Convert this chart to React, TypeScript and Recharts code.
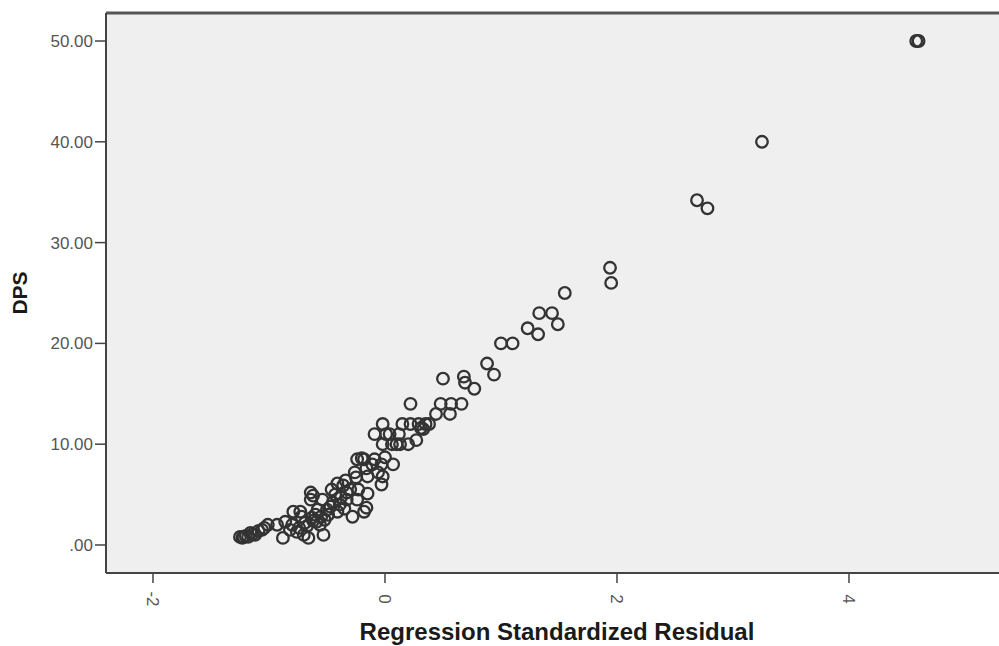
import React from 'react';
import { ScatterChart, Scatter, XAxis, YAxis, CartesianGrid, ReferenceLine } from 'recharts';

// Regression standardized residual (x) against DPS (y)
const tailResidual = [4.58, 4.6, 3.25, 2.69, 2.78, 1.94, 1.95, 1.55, 1.33, 1.44, 1.49, 1.23, 1.32, 1.0, 1.1, 0.88, 0.94, 0.5, 0.68, 0.69, 0.77, 0.22, 0.48, 0.57, 0.66, 0.44, 0.56];
const tailDps = [50, 50, 40, 34.2, 33.4, 27.5, 26, 25, 23, 23, 21.9, 21.5, 20.9, 20, 20, 18, 16.9, 16.5, 16.7, 16.1, 15.5, 14, 14, 14, 14, 13, 13];

const midResidual = [-0.02, 0.15, 0.22, 0.29, 0.35, -0.09, 0.01, 0.12, 0.31, -0.02, 0.06, 0.13, 0.2, -0.24, -0.18, -0.09, 0.0, -0.11, -0.03, 0.07, -0.26, -0.16, -0.02, -0.34, -0.25, -0.15, -0.03, -0.41, -0.36, -0.23, -0.15, -0.46, -0.33];
const midDps = [12, 12, 12, 12, 12, 11, 11, 11, 11.6, 10, 10, 10, 10, 8.5, 8.5, 8.5, 8.7, 8, 8, 8, 7.2, 7.6, 6.8, 6.4, 6.7, 6.8, 6, 6.1, 5.9, 5.5, 5.1, 5.5, 5.2];

const lowResidual = [-0.64, -0.64, -0.54, -0.43, -0.33, -0.24, -0.16, -0.18, -0.28, -0.47, -0.41, -0.58, -0.73, -0.79, -0.52, -0.63, -0.69, -0.56, -0.39, -0.49, -0.59, -0.53, -0.66, -0.76, -0.88, -0.86, -1.01, -1.04, -1.09, -1.14, -1.2, -1.25, -1.22, -0.74, -0.82, -0.93];
const lowDps = [5.2, 4.5, 4.5, 5.0, 4.5, 4.5, 3.7, 3.3, 2.8, 3.8, 3.3, 3.5, 3.3, 3.3, 2.5, 2.7, 2.2, 2.0, 4.0, 3.0, 2.3, 1.0, 0.7, 1.3, 0.7, 2.3, 2.0, 1.7, 1.4, 1.1, 0.9, 0.8, 0.8, 1.7, 1.5, 2.0];

// overlapping cases in the crowded part of the cloud
const denseResidual = [0.1, 0.27, 0.38, 0.33, -0.2, -1.23, -1.18, -1.12, -1.06, -1.16, -0.62, -0.6, -0.55, -0.5, -0.45, -0.38, -0.35, -0.3, -0.62, -0.67, -0.72, -0.8, -0.7, 0.04, -0.06];
const denseDps = [10, 10.4, 12, 11.5, 8.6, 0.7, 0.8, 1.0, 1.5, 1.2, 4.9, 3.0, 2.8, 3.5, 4.2, 4.7, 3.6, 5.5, 2.4, 1.9, 2.8, 2.0, 1.0, 11, 7.2];

const xTicks = [-2, 0, 2, 4];
const yTicks = [0, 10, 20, 30, 40, 50];

const X_DOMAIN: [number, number] = [-2.405, 5.302];
const Y_DOMAIN: [number, number] = [-2.78, 52.78];

const toPoints = (xs: number[], ys: number[]) => xs.map((x, i) => ({ x, y: ys[i] }));
const points = [
  ...toPoints(tailResidual, tailDps),
  ...toPoints(midResidual, midDps),
  ...toPoints(lowResidual, lowDps),
  ...toPoints(denseResidual, denseDps),
];

const FONT = '"Liberation Sans", Arial, sans-serif';

// hollow SPSS-style marker
const Ring = (props: any) => (
  <circle cx={props.cx} cy={props.cy} r={5.8} fill="none" stroke="#333" strokeWidth={2.3} />
);

// x labels are drawn turned on their side
const RotatedTick = (props: any) => {
  const { x, y, payload } = props;
  return (
    <text
      transform={`translate(${x},${y + 14}) rotate(90)`}
      textAnchor="middle"
      dy="0.35em"
      fontSize={17}
      fontFamily={FONT}
      fill="#555"
    >
      {payload.value}
    </text>
  );
};

const formatDps = (v: number) => (v === 0 ? '.00' : v.toFixed(2));

export default function App() {
  return (
    <div style={{ position: 'absolute', left: 0, top: 0, width: 999, height: 646, overflow: 'hidden', background: '#fff' }}>
      <ScatterChart width={1000} height={646} margin={{ top: 13, right: 0, bottom: 0, left: 0 }}>
        <CartesianGrid horizontal={false} vertical={false} fill="#efefef" stroke="none" />
        <XAxis
          type="number"
          dataKey="x"
          domain={X_DOMAIN}
          ticks={xTicks}
          allowDataOverflow
          height={73}
          tickSize={10}
          tickMargin={2}
          axisLine={{ stroke: '#444', strokeWidth: 2 }}
          tickLine={{ stroke: '#444', strokeWidth: 1.5 }}
          tick={<RotatedTick />}
          label={{
            value: 'Regression Standardized Residual',
            position: 'insideBottom',
            offset: 6,
            dx: 4,
            style: { fontSize: 24, fontWeight: 'bold', fontFamily: FONT, fill: '#1a1a1a' },
          }}
        />
        <YAxis
          type="number"
          dataKey="y"
          domain={Y_DOMAIN}
          ticks={yTicks}
          allowDataOverflow
          width={106}
          tickSize={11}
          tickMargin={2}
          tickFormatter={formatDps}
          axisLine={{ stroke: '#444', strokeWidth: 2 }}
          tickLine={{ stroke: '#444', strokeWidth: 1.5 }}
          tick={{ fontSize: 17, fontFamily: FONT, fill: '#555' }}
          label={(props: any) => {
            const vb = props.viewBox;
            return (
              <text
                transform={`translate(${vb.x + 20},${vb.y + vb.height / 2}) rotate(-90)`}
                textAnchor="middle"
                dy="0.35em"
                fontSize={21}
                fontWeight="bold"
                fontFamily={FONT}
                fill="#1a1a1a"
              >
                DPS
              </text>
            );
          }}
        />
        <ReferenceLine y={Y_DOMAIN[1]} stroke="#555" strokeWidth={3} ifOverflow="visible" />
        <Scatter data={points} shape={<Ring />} isAnimationActive={false} />
      </ScatterChart>
    </div>
  );
}
